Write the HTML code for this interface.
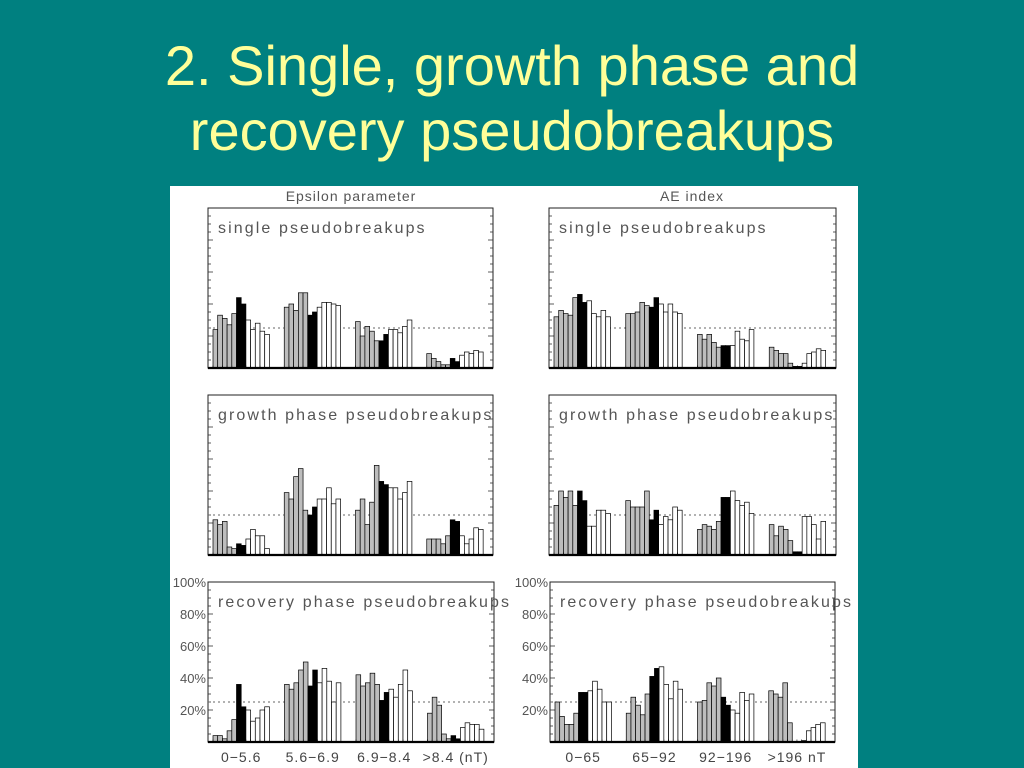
<!DOCTYPE html>
<html><head><meta charset="utf-8"><style>
html,body{margin:0;padding:0;background:#008080;}
svg{display:block;font-family:"Liberation Sans",sans-serif;}
</style></head><body>
<svg id="chart" width="1024" height="768" viewBox="0 0 1024 768" xmlns="http://www.w3.org/2000/svg">
<rect x="0" y="0" width="1024" height="768" fill="#008080"/>
<text x="512" y="85" text-anchor="middle" font-size="56" fill="#ffff99">2. Single, growth phase and</text>
<text x="512" y="150" text-anchor="middle" font-size="56" fill="#ffff99">recovery pseudobreakups</text>
<rect x="170" y="186" width="688" height="582" fill="#ffffff"/>
<text x="351" y="201" text-anchor="middle" font-size="14" fill="#555" letter-spacing="1">Epsilon parameter</text>
<text x="692" y="201" text-anchor="middle" font-size="14" fill="#555" letter-spacing="1">AE index</text>
<g id="plots"></g>
</svg>
<script>
// data (percent), 4 groups x 12 bars: 5 gray, 2 black, 5 white
const epsSingle = [[24,33,31,27,34,44,40,30,24,28,23,21],[38,40,36,47,47,33,35,38,41,41,40,39],[29,20,26,23,17,17,21,24,24,22,26,30],[9,6,4,2,2,6,4,8,10,9,11,10]];
const aeSingle = [[32,36,34,33,44,46,41,42,34,32,36,32],[34,34,35,41,39,38,44,40,35,40,35,34],[21,18,21,16,13,14,14,14,23,18,17,24],[13,11,9,9,3,1,1,3,9,10,12,11]];
const epsGrowth = [[22,19,21,5,4,7,6,10,16,12,12,4],[39,35,49,54,28,25,30,35,35,42,32,35],[28,35,19,33,56,46,44,42,42,35,39,46],[10,10,10,7,12,22,21,12,7,10,17,16]];
const aeGrowth = [[31,40,36,40,31,40,34,18,18,28,28,26],[34,30,30,30,40,22,28,19,24,22,30,28],[16,19,18,16,21,36,36,40,34,31,33,26],[19,12,18,16,9,2,2,24,24,19,10,21]];
const epsRecovery = [[4,4,2,7,14,36,22,20,13,15,20,22],[36,33,37,45,50,35,45,37,46,38,25,37],[42,35,37,43,36,26,31,33,28,36,45,32],[18,28,23,5,2,4,2,9,12,11,11,8]];
const aeRecovery = [[25,16,11,11,18,31,31,32,38,33,25,25],[18,28,23,17,30,41,46,47,36,27,38,33],[25,26,37,35,40,28,23,20,18,31,26,30],[32,30,28,37,12,0,0,1,7,9,11,12]];
const barKinds = ["gray","gray","gray","gray","gray","black","black","white","white","white","white","white"];
const epsCategories = ["0\u22125.6","5.6\u22126.9","6.9\u22128.4",">8.4 (nT)"];
const aeCategories = ["0\u221265","65\u221292","92\u2212196",">196 nT"];
const yTickLabels = ["20%","40%","60%","80%","100%"];
const yTickValues = [20,40,60,80,100];
const refLevel = 25;

const NS="http://www.w3.org/2000/svg";
const root=document.getElementById('plots');
function mk(tag,attrs,parent){const e=document.createElementNS(NS,tag);for(const k in attrs)e.setAttribute(k,attrs[k]);(parent||root).appendChild(e);return e;}
const fills={gray:"#bdbdbd",black:"#000",white:"#fff"};

function panel(name,left,right,top,bottom,data,title,cats){
  const g=mk('g',{});
  
  
  const h=bottom-top;
  const y=v=>bottom-v/100*h;
  const groupW=(right-left)/4;
  const bw=4.7;
  const x=(gi,bi)=>left+5+gi*groupW+bi*bw;
  const fr=mk('rect',{x:left,y:top,width:right-left,height:h,fill:'none',stroke:'#222','stroke-width':1},g);
  
  
  for(let v=5;v<100;v+=5){
    const L=(v%20===0)?5:3;
    mk('line',{x1:left,x2:left+L,y1:y(v),y2:y(v),stroke:'#333','stroke-width':0.8},g);
    mk('line',{x1:right,x2:right-L,y1:y(v),y2:y(v),stroke:'#333','stroke-width':0.8},g);
  }
  const t=mk('text',{x:left+10,y:top+25,'font-size':16,fill:'#555','letter-spacing':'2.1'},g);
  t.textContent=title;
  
  
  const ref=mk('line',{x1:left,x2:right,y1:y(refLevel),y2:y(refLevel),stroke:'#666','stroke-width':1,'stroke-dasharray':'2,3'},g);
  
  
  data.forEach((grp,gi)=>{
    grp.forEach((v,bi)=>{
      const r=mk('rect',{x:x(gi,bi),y:y(v),width:bw,height:v/100*h,fill:fills[barKinds[bi]],stroke:'#000','stroke-width':0.7},g);
      
      
      mk('line',{x1:x(gi,bi),x2:x(gi,bi),y1:bottom,y2:bottom-2.5,stroke:'#000','stroke-width':0.6},g);
    });
  });
  const base=mk('line',{x1:left,x2:right,y1:bottom,y2:bottom,stroke:'#000','stroke-width':2.2},g);
  
  
  if(cats){
    yTickValues.forEach((v,i)=>{
      const tl=mk('text',{x:left-2,y:y(v)+5,'font-size':13,fill:'#555','text-anchor':'end'},g);
      tl.textContent=yTickLabels[i];
      
      
    });
    cats.forEach((c,gi)=>{
      const cl=mk('text',{x:x(gi,0)+bw*6,y:bottom+20,'font-size':14,fill:'#444','text-anchor':'middle','letter-spacing':'1'},g);
      cl.textContent=c;
      
      
    });
  }
}
panel('epsilon-single',208,493,208,368,epsSingle,'single pseudobreakups',null);
panel('ae-single',549,836,208,368,aeSingle,'single pseudobreakups',null);
panel('epsilon-growth',208,493,395,555,epsGrowth,'growth phase pseudobreakups',null);
panel('ae-growth',549,836,395,555,aeGrowth,'growth phase pseudobreakups',null);
panel('epsilon-recovery',208,494,582,742,epsRecovery,'recovery phase pseudobreakups',epsCategories);
panel('ae-recovery',550,835,582,742,aeRecovery,'recovery phase pseudobreakups',aeCategories);
</script>
</body></html>
